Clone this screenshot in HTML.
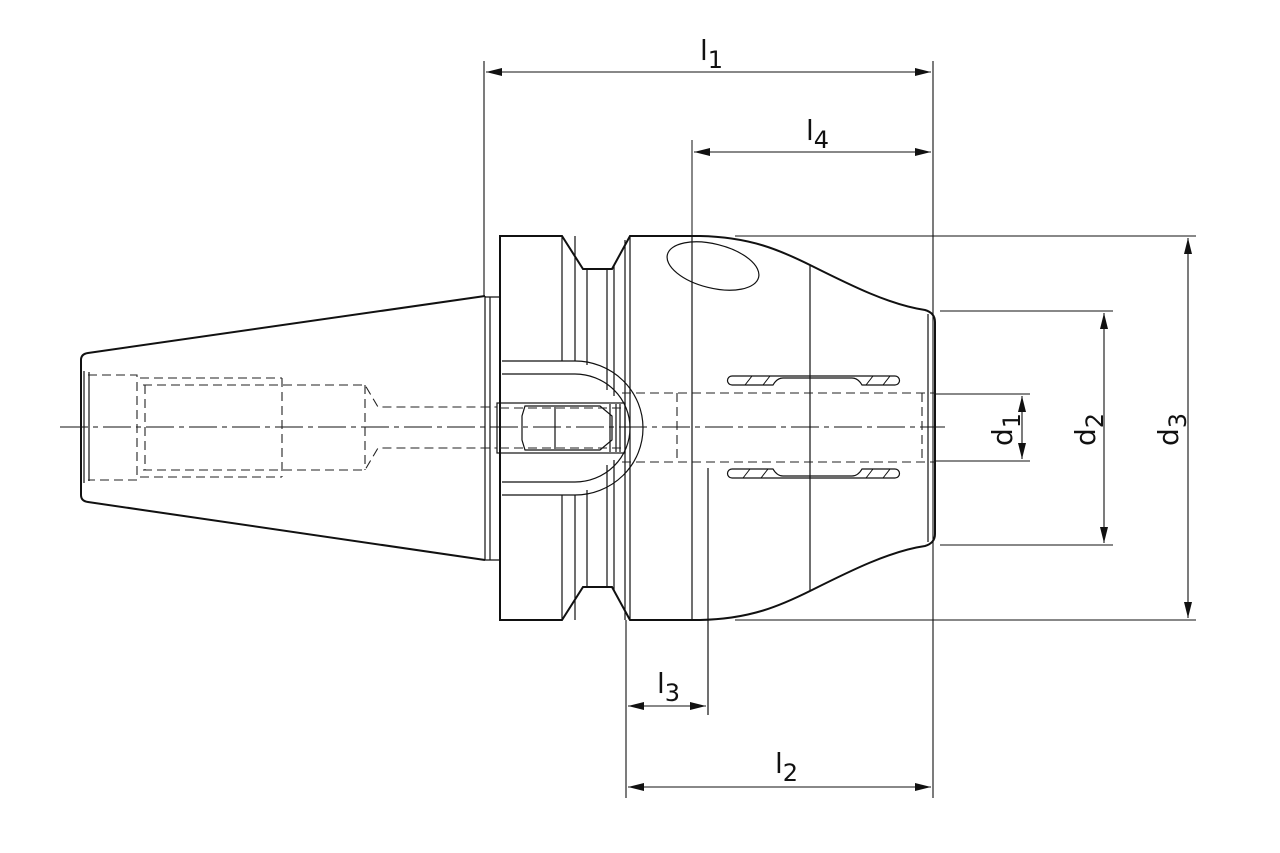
<!DOCTYPE html>
<html><head><meta charset="utf-8"><style>
html,body{margin:0;padding:0;background:#fff;}
svg{display:block;}
text{font-family:"DejaVu Sans","Liberation Sans",sans-serif;fill:#111;}
</style></head><body>
<svg width="1280" height="853" viewBox="0 0 1280 853" xmlns="http://www.w3.org/2000/svg">
<defs>
<marker id="a" viewBox="0 0 16 8" refX="16" refY="4" markerWidth="16" markerHeight="8" orient="auto-start-reverse" markerUnits="userSpaceOnUse"><path d="M0,0 L16,4 L0,8 z" fill="#111"/></marker>
</defs>
<g fill="none" stroke="#111" stroke-width="1.2">
<line x1="60" y1="427" x2="945" y2="427" stroke-dasharray="28,5,5,5" stroke-width="1"/>
<path d="M485,296 L88,353 Q81,354 81,360 L81,495 Q81,501 88,502 L485,560" stroke-width="2"/>
<line x1="84" y1="371" x2="84" y2="483"/>
<line x1="89" y1="372" x2="89" y2="481"/>
<path d="M485,296 L485,560 M490,297 L490,560 M485,297 L500,297 M485,560 L500,560"/>
<path d="M500,236 L562,236 L583,269 L612,269 L630,236 L700,236 C750,237 780,250 812,266 C850,285 890,305 925,310 Q935,313 935,322 L935,534 Q935,543 925,546 C890,551 850,571 812,590 C780,606 750,619 700,620 L630,620 L612,587 L583,587 L562,620 L500,620 Z" stroke-width="2"/>
<line x1="562" y1="236" x2="562" y2="361"/><line x1="562" y1="495" x2="562" y2="620"/>
<line x1="575" y1="236" x2="575" y2="361"/><line x1="575" y1="495" x2="575" y2="620"/>
<line x1="587" y1="269" x2="587" y2="365"/><line x1="587" y1="490" x2="587" y2="587"/>
<line x1="607" y1="269" x2="607" y2="390"/><line x1="607" y1="465" x2="607" y2="587"/>
<line x1="614" y1="265" x2="614" y2="396"/><line x1="614" y1="460" x2="614" y2="591"/>
<line x1="625" y1="240" x2="625" y2="620"/>
<line x1="630" y1="236" x2="630" y2="620"/>
<line x1="692" y1="140" x2="692" y2="236" stroke-width="1"/>
<line x1="692" y1="236" x2="692" y2="620"/>
<line x1="810" y1="265" x2="810" y2="591"/>
<line x1="708" y1="468" x2="708" y2="715"/>
<line x1="928" y1="314" x2="928" y2="542"/>
<ellipse cx="713" cy="266" rx="47" ry="22" transform="rotate(14 713 266)"/>
<path d="M502,361 L575,361 A68,67 0 0 1 575,495 L502,495"/>
<path d="M502,374 L575,374 A55,54 0 0 1 575,482 L502,482"/>
<rect x="497" y="403" width="128" height="50"/>
<path d="M525,406 L600,406 L612,416 L612,440 L600,450 L525,450 L522,440 L522,416 Z"/>
<line x1="555" y1="407" x2="555" y2="449"/>
<line x1="610" y1="404" x2="610" y2="452"/><line x1="616" y1="404" x2="616" y2="452"/><line x1="620" y1="404" x2="620" y2="452"/>
<path d="M732,376 L895,376 A4.5,4.5 0 0 1 895,385 L862,385 Q858,378 852,378 L783,378 Q777,378 773,385 L732,385 A4.5,4.5 0 0 1 732,376 Z"/>
<path d="M732,478 L895,478 A4.5,4.5 0 0 0 895,469 L862,469 Q858,476 852,476 L783,476 Q777,476 773,469 L732,469 A4.5,4.5 0 0 0 732,478 Z"/>
<path d="M745,385 L752,376 M763,385 L770,376 M866,385 L873,376 M883,385 L890,376 M743,478 L750,469 M761,478 L768,469 M866,478 L873,469 M883,478 L890,469" stroke-width="1"/>
</g>
<g fill="none" stroke="#222" stroke-width="1.1" stroke-dasharray="9,5">
<path d="M88,375 L137,375 L137,480 L88,480"/>
<path d="M140,378 L282,378 M140,477 L282,477"/>
<path d="M143,385 L365,385 L378,407 L497,407 M143,470 L365,470 L378,448 L497,448 M145,385 L145,470 M282,378 L282,477 M365,385 L365,470"/>
<path d="M622,393 L935,393 M622,462 L935,462 M677,393 L677,462 M922,393 L922,462"/>
<path d="M500,408 L625,408 M500,448 L625,448"/>
</g>
<g stroke="#111" stroke-width="1.1" fill="none">
<line x1="484" y1="61" x2="484" y2="296"/>
<line x1="933" y1="61" x2="933" y2="798"/>
<line x1="626" y1="620" x2="626" y2="798"/>
<line x1="486" y1="72" x2="931" y2="72" marker-start="url(#a)" marker-end="url(#a)"/>
<line x1="694" y1="152" x2="931" y2="152" marker-start="url(#a)" marker-end="url(#a)"/>
<line x1="628" y1="706" x2="706" y2="706" marker-start="url(#a)" marker-end="url(#a)"/>
<line x1="628" y1="787" x2="931" y2="787" marker-start="url(#a)" marker-end="url(#a)"/>
<line x1="735" y1="236" x2="1196" y2="236"/>
<line x1="735" y1="620" x2="1196" y2="620"/>
<line x1="940" y1="311" x2="1113" y2="311"/>
<line x1="940" y1="545" x2="1113" y2="545"/>
<line x1="935" y1="394" x2="1030" y2="394"/>
<line x1="935" y1="461" x2="1030" y2="461"/>
<line x1="1188" y1="238" x2="1188" y2="618" marker-start="url(#a)" marker-end="url(#a)"/>
<line x1="1104" y1="313" x2="1104" y2="543" marker-start="url(#a)" marker-end="url(#a)"/>
<line x1="1022" y1="396" x2="1022" y2="459" marker-start="url(#a)" marker-end="url(#a)"/>
</g>
<g font-size="28">
<text x="700" y="60">l<tspan font-size="24" dy="8">1</tspan></text>
<text x="806" y="140">l<tspan font-size="24" dy="8">4</tspan></text>
<text x="657" y="693">l<tspan font-size="24" dy="8">3</tspan></text>
<text x="775" y="773">l<tspan font-size="24" dy="8">2</tspan></text>
<text transform="translate(1012,446) rotate(-90)">d<tspan font-size="24" dy="8">1</tspan></text>
<text transform="translate(1095,446) rotate(-90)">d<tspan font-size="24" dy="8">2</tspan></text>
<text transform="translate(1178,446) rotate(-90)">d<tspan font-size="24" dy="8">3</tspan></text>
</g>
</svg>
</body></html>
